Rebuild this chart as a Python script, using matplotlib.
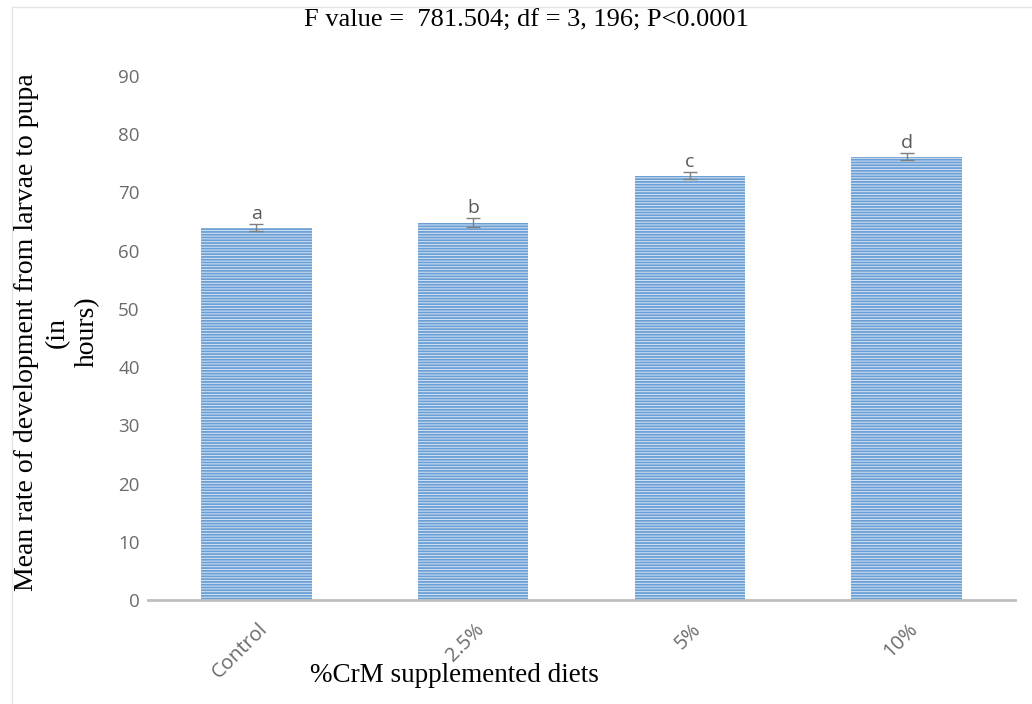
import matplotlib
matplotlib.use("Agg")
import matplotlib.pyplot as plt
from matplotlib.lines import Line2D
from matplotlib.transforms import ScaledTranslation

categories = ["Control", "2.5%", "5%", "10%"]
means = [63.9, 64.8, 72.9, 76.1]
errors = [0.6, 0.8, 0.6, 0.6]
letters = ["a", "b", "c", "d"]
yticks = [0, 10, 20, 30, 40, 50, 60, 70, 80, 90]

plt.rcParams['hatch.linewidth'] = 1.3

fig = plt.figure(figsize=(10.32, 7.04), dpi=100)
W, H = 1032, 704
ax = fig.add_axes([148 / W, (H - 600) / H, (1015 - 148) / W, (600 - 76) / H])

x = list(range(len(categories)))
bars = ax.bar(x, means, width=0.51, color='#d6e4f4', edgecolor='#6a9fd6', linewidth=0,
              hatch='------', zorder=2)
ax.errorbar(x, means, yerr=errors, fmt='none', ecolor='#7f7f7f', elinewidth=1.0, capsize=5,
            capthick=1.0, zorder=3)
for xi, m, e, l in zip(x, means, errors, letters):
    ax.text(xi, m + e + 0.2, l, ha='center', va='bottom', fontsize=14, color='#595959',
            family='Open Sans')

ax.set_xlim(-0.5, len(categories) - 0.5)
ax.set_ylim(0, 90)
ax.set_yticks(yticks)
ax.set_xticks(x)
ax.set_xticklabels(categories, rotation=45, ha='right', va='center', rotation_mode='anchor')
for s in ['top', 'right', 'left']:
    ax.spines[s].set_visible(False)
ax.spines['bottom'].set_color('#bfbfbf')
ax.spines['bottom'].set_linewidth(2)
ax.tick_params(axis='both', length=0, labelcolor='#6b6b6b')
ax.tick_params(axis='y', pad=6, labelsize=13.5)
ax.tick_params(axis='x', pad=19, labelsize=14.5)
shift = ScaledTranslation(8 / 100, 0, fig.dpi_scale_trans)
for t in ax.get_xticklabels():
    t.set_transform(t.get_transform() + shift)
for t in ax.get_xticklabels() + ax.get_yticklabels():
    t.set_family('Open Sans')

fig.text(526 / W, 1 - 21 / H, "F value =  781.504; df = 3, 196; P<0.0001", ha='center', va='center',
         fontsize=19, family='Liberation Serif', color='#000000')
fig.text(454 / W, 1 - 676 / H, "%CrM supplemented diets", ha='center', va='center',
         fontsize=19.5, family='Liberation Serif', color='#000000')
fig.text(57 / W, 1 - 332 / H, "Mean rate of development from larvae to pupa\n(in\nhours)", ha='center',
         va='center', rotation=90, fontsize=20, family='Liberation Serif', color='#000000',
         multialignment='center', linespacing=1.3)

# faint outer frame of the original chart area
fig.add_artist(Line2D([12 / W, 12 / W], [0, 1 - 7 / H], transform=fig.transFigure, color='#e4e4e4', lw=1))
fig.add_artist(Line2D([12 / W, 1], [1 - 7 / H, 1 - 7 / H], transform=fig.transFigure, color='#e4e4e4', lw=1))

fig.savefig("out.png", dpi=100)
